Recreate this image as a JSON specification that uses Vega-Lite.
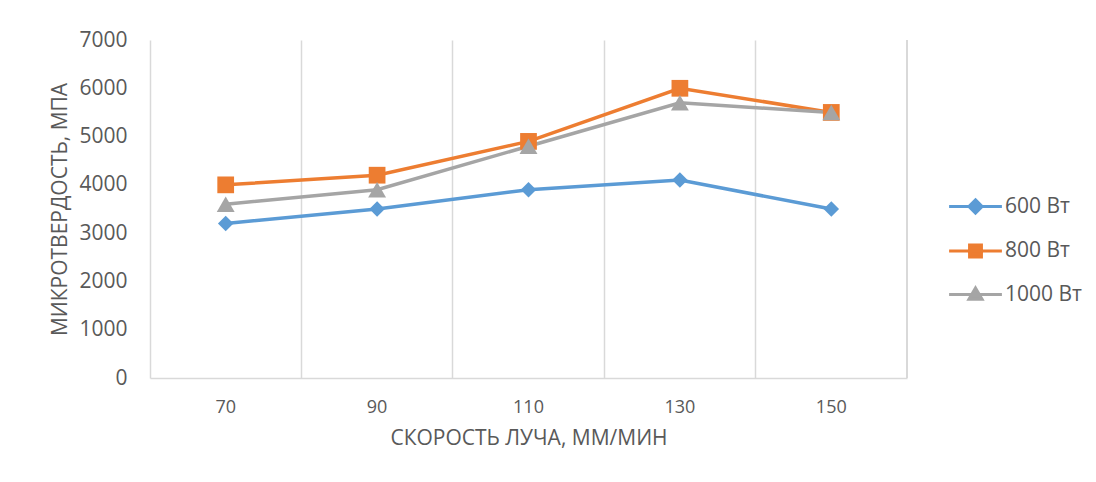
{
  "$schema": "https://vega.github.io/schema/vega-lite/v6.json",
  "autosize": "none",
  "width": 757,
  "height": 338,
  "padding": {"left": 150, "top": 40, "right": 189, "bottom": 104},
  "background": "white",
  "config": {
    "view": {"stroke": null},
    "font": "Open Sans",
    "axis": {"labelColor": "#595959", "titleColor": "#595959", "titleFontWeight": "normal", "labelFont": "Open Sans", "titleFont": "Open Sans"}
  },
  "data": {
    "values": [
      {"speed": 70, "series": "600 Вт", "hv": 3200},
      {"speed": 90, "series": "600 Вт", "hv": 3500},
      {"speed": 110, "series": "600 Вт", "hv": 3900},
      {"speed": 130, "series": "600 Вт", "hv": 4100},
      {"speed": 150, "series": "600 Вт", "hv": 3500},
      {"speed": 70, "series": "800 Вт", "hv": 4000},
      {"speed": 90, "series": "800 Вт", "hv": 4200},
      {"speed": 110, "series": "800 Вт", "hv": 4900},
      {"speed": 130, "series": "800 Вт", "hv": 6000},
      {"speed": 150, "series": "800 Вт", "hv": 5500},
      {"speed": 70, "series": "1000 Вт", "hv": 3600},
      {"speed": 90, "series": "1000 Вт", "hv": 3900},
      {"speed": 110, "series": "1000 Вт", "hv": 4800},
      {"speed": 130, "series": "1000 Вт", "hv": 5700},
      {"speed": 150, "series": "1000 Вт", "hv": 5500}
    ]
  },
  "encoding": {
    "x": {
      "field": "speed", "type": "ordinal",
      "scale": {"paddingInner": 0, "paddingOuter": 0},
      "axis": {
        "title": "СКОРОСТЬ ЛУЧА, ММ/МИН", "titleFontSize": 21, "titlePadding": 11,
        "labelAngle": 0, "labelFontSize": 18, "labelPadding": 20,
        "ticks": false, "grid": true, "bandPosition": 0,
        "gridColor": "#d9d9d9", "gridWidth": 1.5,
        "domainColor": "#d9d9d9", "domainWidth": 1.5
      }
    },
    "y": {
      "field": "hv", "type": "quantitative",
      "scale": {"domain": [0, 7000], "nice": false},
      "axis": {
        "title": "МИКРОТВЕРДОСТЬ, МПА", "titleFontSize": 21, "titlePadding": 8,
        "values": [0, 1000, 2000, 3000, 4000, 5000, 6000, 7000], "format": "d",
        "labelFontSize": 21, "labelPadding": 23,
        "ticks": false, "domain": false, "grid": false
      }
    }
  },
  "layer": [
    {
      "mark": {"type": "rule", "color": "#d9d9d9", "strokeWidth": 1.5},
      "encoding": {
        "x": {"datum": 150, "type": "ordinal", "bandPosition": 1},
        "y": null
      }
    },
    {
      "mark": {"type": "line", "strokeWidth": 3.5},
      "encoding": {"color": {"field": "series", "type": "nominal", "legend": null,
        "scale": {"domain": ["600 Вт", "800 Вт", "1000 Вт"], "range": ["#5B9BD5", "#ED7D31", "#A5A5A5"]}}}
    },
    {
      "mark": {"type": "point", "filled": true, "opacity": 1},
      "encoding": {
        "color": {"field": "series", "type": "nominal", "legend": null},
        "shape": {"field": "series", "type": "nominal", "legend": null,
          "scale": {"domain": ["600 Вт", "800 Вт", "1000 Вт"], "range": ["diamond", "square", "triangle-up"]}},
        "size": {"field": "series", "type": "nominal", "legend": null,
          "scale": {"domain": ["600 Вт", "800 Вт", "1000 Вт"], "range": [240, 320, 290]}}
      }
    },
    {
      "mark": {"type": "point", "filled": true, "opacity": 0},
      "encoding": {
        "color": {"field": "series", "type": "nominal",
          "legend": {
            "title": null, "orient": "none", "legendX": 802, "legendY": 143,
            "padding": 0, "symbolSize": 1936, "symbolStrokeWidth": 3,
            "labelFontSize": 21, "labelColor": "#595959", "labelFont": "Open Sans",
            "labelOffset": 6, "rowPadding": 7.5,
            "encode": {
              "symbols": {"update": {
                "fill": {"scale": "color", "field": "value"},
                "stroke": {"scale": "color", "field": "value"},
                "strokeWidth": {"value": 3},
                "opacity": {"value": 1}
              }}
            }
          }
        },
        "shape": {"field": "series", "type": "nominal",
          "scale": {"domain": ["600 Вт", "800 Вт", "1000 Вт"],
            "range": [
              "M-1.2,0L1.2,0M0,-0.3L0.3,0L0,0.3L-0.3,0Z",
              "M-1.2,0L1.2,0M-0.27,-0.27L0.27,-0.27L0.27,0.27L-0.27,0.27Z",
              "M-1.2,0L1.2,0M0,-0.3L0.3,0.22L-0.3,0.22Z"
            ]}}
      }
    }
  ],
  "resolve": {"scale": {"shape": "independent"}, "legend": {"color": "independent", "shape": "independent"}}
}
